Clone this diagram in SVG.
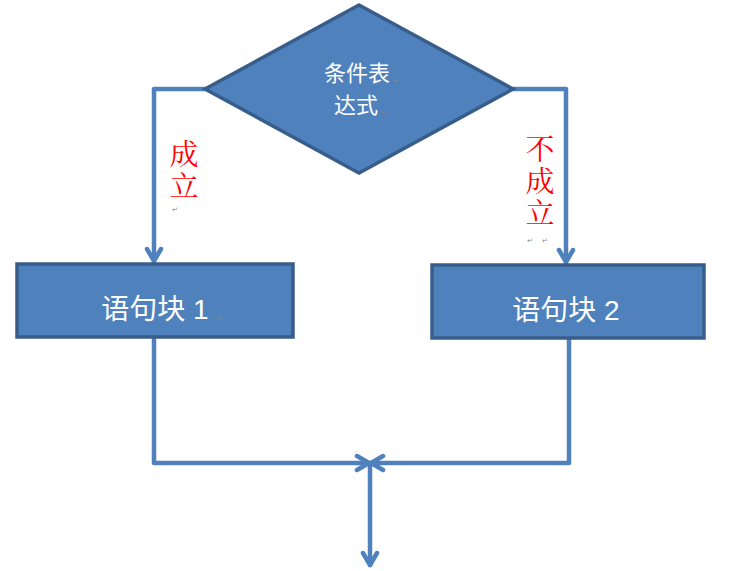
<svg xmlns="http://www.w3.org/2000/svg" width="731" height="571" viewBox="0 0 731 571">
<style>
.shape{fill:#4F81BD;stroke:#385D8A;stroke-width:3.5;stroke-linejoin:miter}
.conn{fill:none;stroke:#4F81BD;stroke-width:4.5;stroke-linejoin:round;stroke-linecap:round}
.wt{fill:#FFFFFF;font-family:"Liberation Sans","Noto Sans CJK SC",sans-serif;text-anchor:middle}
.rt{fill:#FF0000;font-family:"Liberation Serif","Noto Serif CJK SC","Noto Sans CJK SC",serif;font-size:29px;text-anchor:middle}
.pm{fill:#888888;font-family:"DejaVu Sans",sans-serif;font-size:7px}
</style>
<defs>
<marker id="arr" viewBox="0 0 20 20" refX="16" refY="10" markerWidth="20" markerHeight="20" markerUnits="userSpaceOnUse" orient="auto">
<path d="M4,3 L16,10 L4,17" fill="none" stroke="#4F81BD" stroke-width="4.5" stroke-linecap="round" stroke-linejoin="round"/>
</marker>
</defs>
<rect width="731" height="571" fill="#FFFFFF"/>
<g id="connectors">
<polyline class="conn" points="205,89 154,89 154,261" marker-end="url(#arr)"/>
<polyline class="conn" points="513,89 566,89 566,262" marker-end="url(#arr)"/>
<polyline class="conn" points="154,339 154,463 369,463" marker-end="url(#arr)"/>
<polyline class="conn" points="569,340 569,463 371,463" marker-end="url(#arr)"/>
<polyline class="conn" points="370,463 370,565" marker-end="url(#arr)"/>
</g>
<g id="cond">
<polygon class="shape" points="359,5 513,89 359,173 205,89"/>
<text class="wt" x="357" y="81" font-size="22">条件表</text>
<text class="wt" x="356" y="113" font-size="22">达式</text>
<text class="pm" x="393" y="83">↵</text>
<text class="pm" x="381" y="115">↵</text>
</g>
<g id="block1">
<rect class="shape" x="17" y="264" width="276" height="73"/>
<text class="wt" x="155" y="319" font-size="28">语句块 1</text>
<text class="pm" x="216" y="321">↵</text>
</g>
<g id="block2">
<rect class="shape" x="432" y="265" width="272" height="73"/>
<text class="wt" x="566" y="320" font-size="28">语句块 2</text>
<text class="pm" x="628" y="322">↵</text>
</g>
<g id="label-yes">
<text class="rt" x="184" y="165">成</text>
<text class="rt" x="184" y="197">立</text>
<text class="pm" x="172" y="212">↵</text>
</g>
<g id="label-no">
<text class="rt" x="540" y="160">不</text>
<text class="rt" x="540" y="192">成</text>
<text class="rt" x="540" y="224">立</text>
<text class="pm" x="527" y="243">↵</text>
<text class="pm" x="542" y="243">↵</text>
</g>
</svg>
